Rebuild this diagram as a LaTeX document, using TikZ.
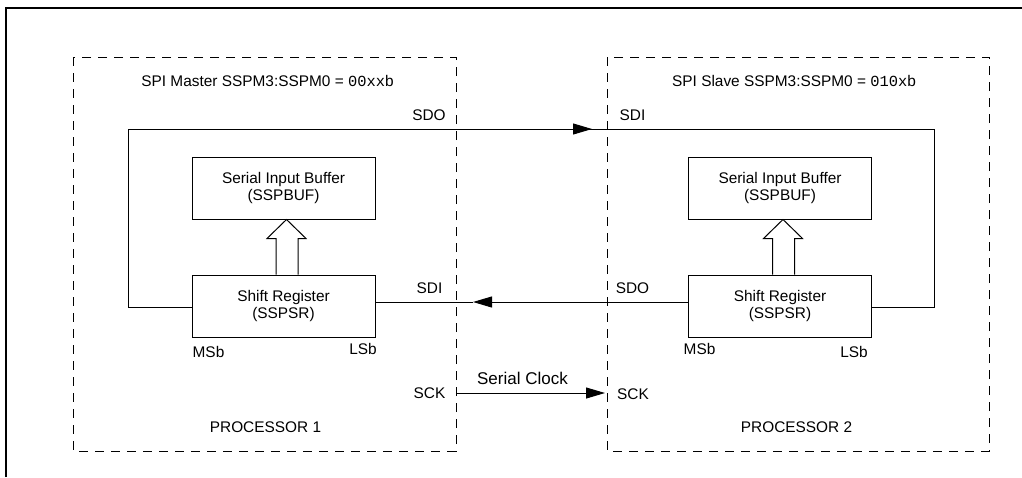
\documentclass[tikz,border=0pt]{standalone}
\usepackage{fontspec}
\setmainfont{Liberation Sans}
\newfontfamily\monof{Liberation Mono}
\usetikzlibrary{arrows.meta,calc}
\begin{document}
\begin{tikzpicture}[x=1pt,y=-1pt,
  every node/.style={font=\fontsize{15.4}{17.5}\selectfont, inner sep=0pt},
  regbox/.style={draw, line width=1pt, minimum width=183pt, minimum height=62pt, align=center},
  procbox/.style={draw, line width=1pt, dash pattern=on 9pt off 7pt},
  wire/.style={line width=1pt},
  tip/.style={wire, -{Triangle[length=19pt,width=11pt]}},
  hollow/.style={line width=1pt}
]
\useasboundingbox (0,0) rectangle (1022,477);
% outer frame
\draw[line width=1.2pt] (6,477) -- (6,8) -- (1022,8);
% processor frames
\draw[procbox] (73,57) rectangle (456,451);
\draw[procbox] (607,57) rectangle (989,451);
% titles
\node (t1) at (267.5,81) {SPI Master SSPM3:SSPM0 = {\monof 00xx}b};
\node (t2) at (794,81) {SPI Slave SSPM3:SSPM0 = {\monof 010x}b};
% boxes
\node[regbox] (buf1) at (283.5,188) {Serial Input Buffer\\(SSPBUF)};
\node[regbox] (sr1)  at (283.5,306) {Shift Register\\(SSPSR)};
\node[regbox] (buf2) at (780,188) {Serial Input Buffer\\(SSPBUF)};
\node[regbox] (sr2)  at (780,306) {Shift Register\\(SSPSR)};
% hollow arrows
\foreach \s/\b in {sr1/buf1, sr2/buf2}{
  \draw[hollow] ($(\s.north)+(-7.5,0)$) -- ($(\s.north)+(-7.5,-36)$) -- ($(\s.north)+(-16.5,-36)$)
     -- ($(\b.south)+(3,0)$) -- ($(\s.north)+(22.5,-36)$) -- ($(\s.north)+(14.5,-36)$) -- ($(\s.north)+(14.5,0)$);
}
% coordinates
\coordinate (tl) at (128,129);
\coordinate (tr) at (934,129);
\coordinate (ta) at (592,129);
\coordinate (ba) at (473,302);
\coordinate (ck1) at (457,393);
\coordinate (ck2) at (605,393);
% top wire SDO -> SDI
\draw[wire] ([yshift=-1pt]sr1.west) -| (tl) -- (ta);
\draw[tip] (tl) -- (ta);
\draw[wire] (ta) -- (tr) |- ([yshift=-1pt]sr2.east);
% lower wire SDO -> SDI
\draw[tip] ([yshift=4pt]sr2.west) -- (ba);
\draw[wire] (ba) -- ([yshift=4pt]sr1.east);
% clock
\draw[tip] (ck1) -- (ck2);
\node[font=\fontsize{17}{20}\selectfont] (sc) at (522.5,378) {Serial Clock};
% labels
\node (sdo1) at (429,115) {SDO};
\node (sdi2) at (632.5,115) {SDI};
\node (sdi1) at (429.5,288) {SDI};
\node (sdo2) at (632.5,288) {SDO};
\node (sck1) at (429.5,393) {SCK};
\node (sck2) at (633,394) {SCK};
\node (msb1) at (208.5,352) {MSb};
\node (lsb1) at (363,349) {LSb};
\node (msb2) at (699.5,349) {MSb};
\node (lsb2) at (854,352) {LSb};
\node (p1) at (265.5,427) {PROCESSOR 1};
\node (p2) at (796.5,427) {PROCESSOR 2};
\end{tikzpicture}
\end{document}
